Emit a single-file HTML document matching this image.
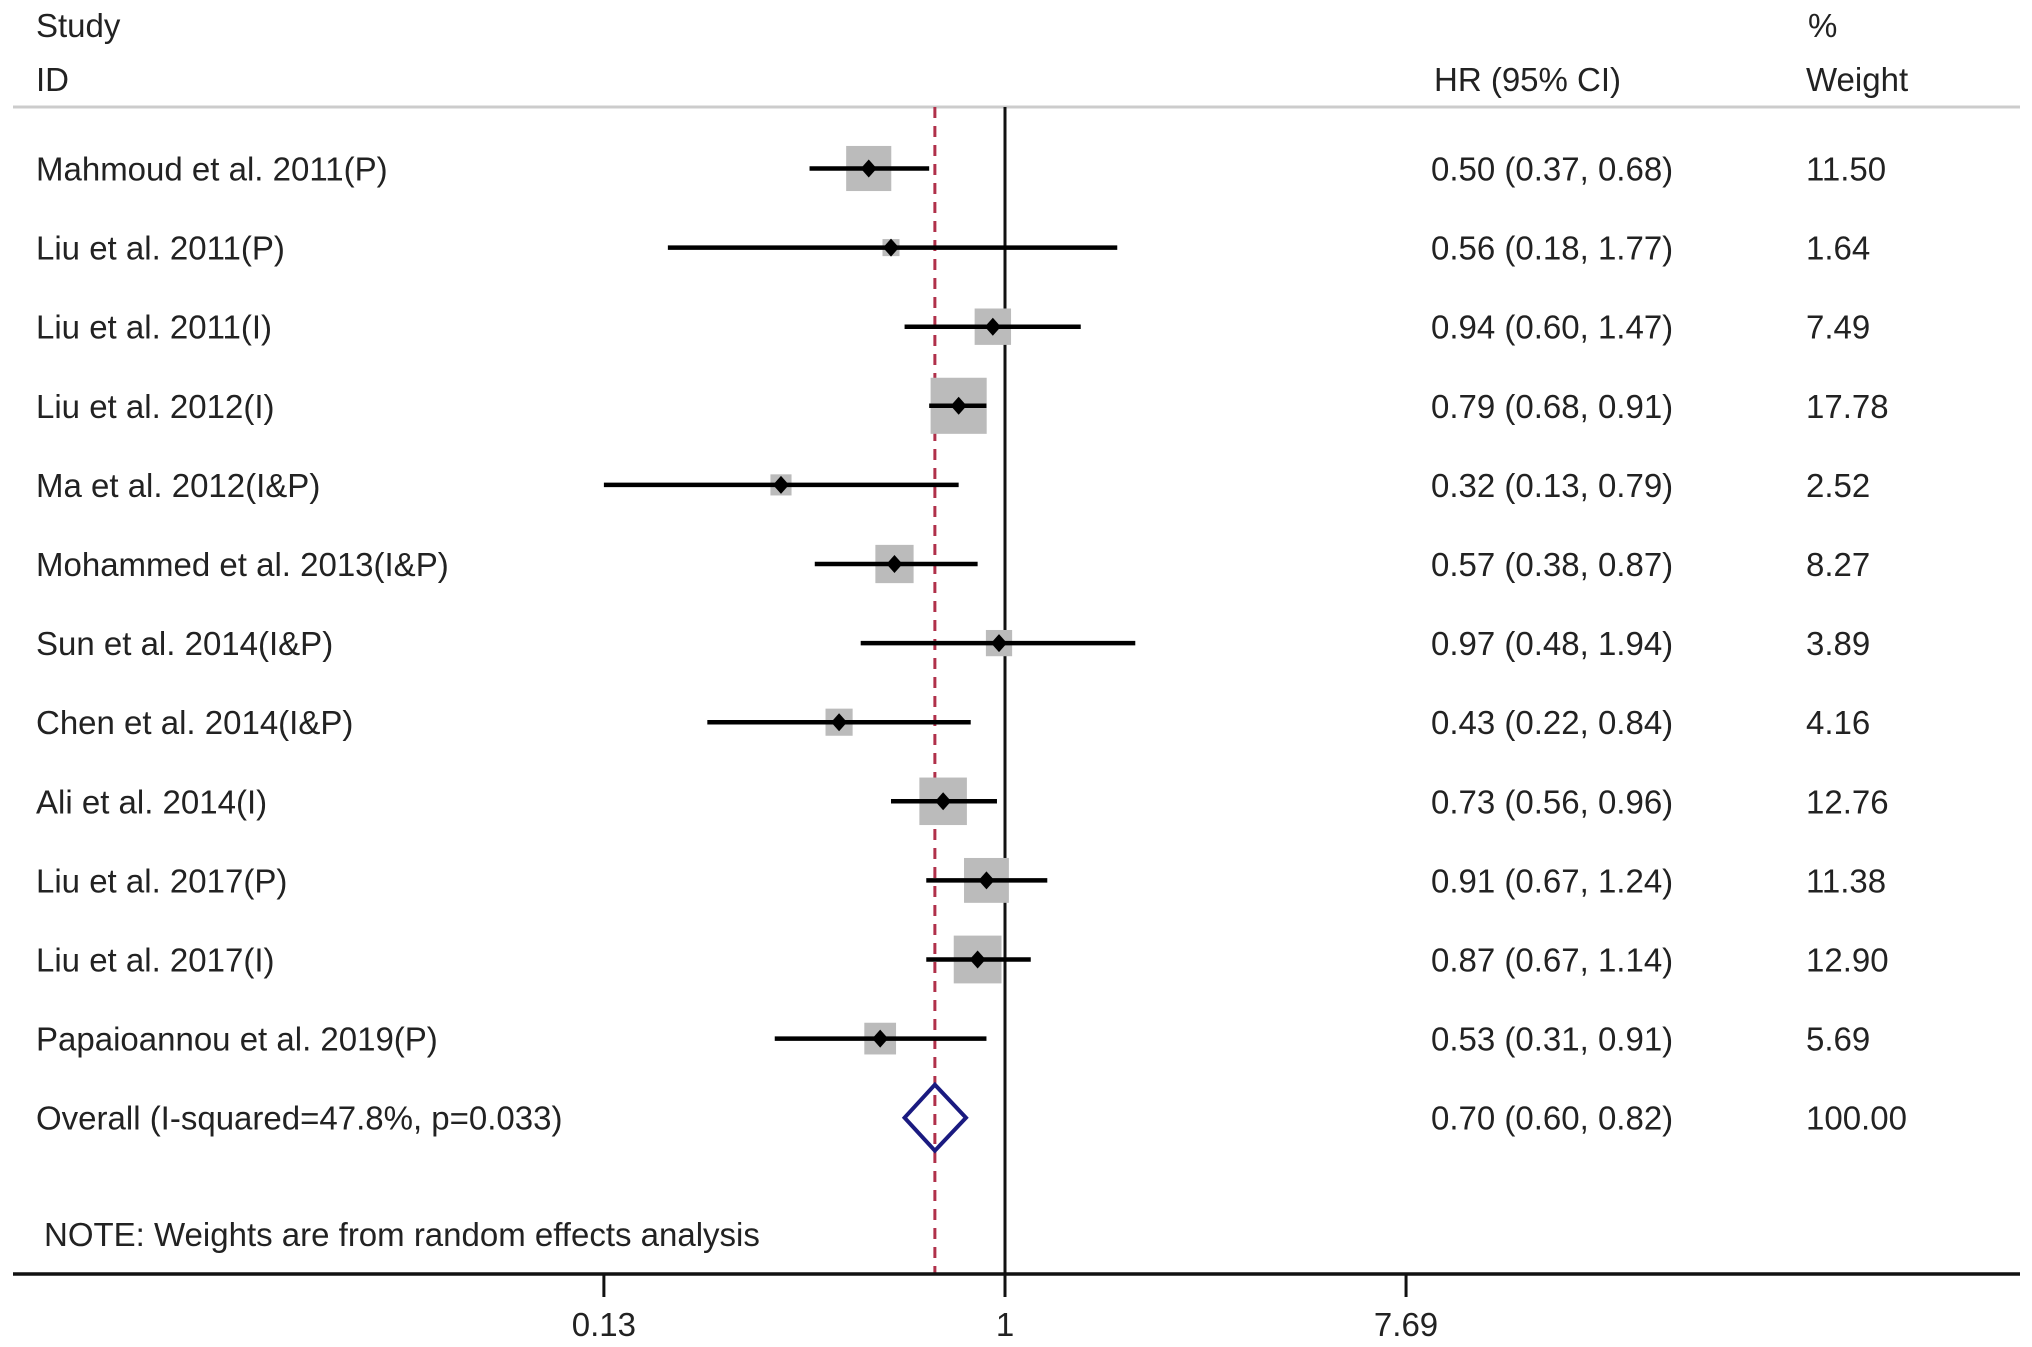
<!DOCTYPE html>
<html><head><meta charset="utf-8"><style>
html,body{margin:0;padding:0;background:#fff;}
svg{display:block;font-family:"Liberation Sans",Arial,sans-serif;}
text{fill:#222;font-size:33px;}
</style></head><body>
<svg id="chart" width="2032" height="1347" viewBox="0 0 2032 1347" xmlns="http://www.w3.org/2000/svg">
<text x="36" y="37">Study</text>
<text x="36" y="91">ID</text>
<text x="1434" y="91">HR (95% CI)</text>
<text x="1808" y="37">%</text>
<text x="1806" y="91">Weight</text>
<line x1="13" y1="107" x2="2020" y2="107" stroke="#ccc" stroke-width="3"/>
<g id="plot"></g>
<text x="44" y="1246">NOTE: Weights are from random effects analysis</text>
</svg>
<script>
const studies = ["Mahmoud et al. 2011(P)","Liu et al. 2011(P)","Liu et al. 2011(I)","Liu et al. 2012(I)","Ma et al. 2012(I&P)","Mohammed et al. 2013(I&P)","Sun et al. 2014(I&P)","Chen et al. 2014(I&P)","Ali et al. 2014(I)","Liu et al. 2017(P)","Liu et al. 2017(I)","Papaioannou et al. 2019(P)"];
const hr = [0.50,0.56,0.94,0.79,0.32,0.57,0.97,0.43,0.73,0.91,0.87,0.53];
const lo = [0.37,0.18,0.60,0.68,0.13,0.38,0.48,0.22,0.56,0.67,0.67,0.31];
const hi = [0.68,1.77,1.47,0.91,0.79,0.87,1.94,0.84,0.96,1.24,1.14,0.91];
const weights = ["11.50","1.64","7.49","17.78","2.52","8.27","3.89","4.16","12.76","11.38","12.90","5.69"];
const overallLabel = "Overall (I-squared=47.8%, p=0.033)";
const overall = [0.70,0.60,0.82];
const overallWeight = "100.00";
const ticks = [0.13,1,7.69];

const NS="http://www.w3.org/2000/svg";
const g=document.getElementById('plot');
const x0=1005, k=196.6;
const X=v=>x0+k*Math.log(v);
const rowY=i=>168.5+79.1*i;
function el(t,a){const e=document.createElementNS(NS,t);for(const n in a)e.setAttribute(n,a[n]);g.appendChild(e);return e;}
const fmt=v=>v.toFixed(2);
const axisY=1274;

let l=el('line',{x1:X(1),y1:107,x2:X(1),y2:axisY,stroke:'#111','stroke-width':3});


l=el('line',{x1:X(overall[0]),y1:107,x2:X(overall[0]),y2:axisY,stroke:'#b0304a','stroke-width':3,'stroke-dasharray':'11,8'});



studies.forEach((s,i)=>{
  const y=rowY(i);
  const side=13.3*Math.sqrt(parseFloat(weights[i]));
  let b=el('rect',{x:X(hr[i])-side/2,y:y-side/2,width:side,height:side,fill:'#bbb'});
  
  
  let c=el('line',{x1:X(lo[i]),y1:y,x2:X(hi[i]),y2:y,stroke:'#000','stroke-width':4.5});
  
  
  const px=X(hr[i]);
  let m=el('polygon',{points:`${px-8},${y} ${px},${y-9} ${px+8},${y} ${px},${y+9}`,fill:'#000'});
  
  
  let t=el('text',{x:36,y:y+12}); t.textContent=s;
  
  
  t=el('text',{x:1431,y:y+12}); t.textContent=`${fmt(hr[i])} (${fmt(lo[i])}, ${fmt(hi[i])})`;
  
  
  t=el('text',{x:1806,y:y+12}); t.textContent=weights[i];
  
  
});

const oy=rowY(studies.length);
let d=el('polygon',{points:`${X(overall[1])},${oy} ${X(overall[0])},${oy-33} ${X(overall[2])},${oy} ${X(overall[0])},${oy+33}`,fill:'none',stroke:'#1a1a80','stroke-width':4});


let t=el('text',{x:36,y:oy+12}); t.textContent=overallLabel;


t=el('text',{x:1431,y:oy+12}); t.textContent=`${fmt(overall[0])} (${fmt(overall[1])}, ${fmt(overall[2])})`;


t=el('text',{x:1806,y:oy+12}); t.textContent=overallWeight;



let ax=el('line',{x1:13,y1:axisY,x2:2020,y2:axisY,stroke:'#111','stroke-width':3.5});


ticks.forEach(v=>{
  let tk=el('line',{x1:X(v),y1:axisY,x2:X(v),y2:axisY+23,stroke:'#111','stroke-width':3});
  
  
  let lb=el('text',{x:X(v),y:1336,'text-anchor':'middle'}); lb.textContent=String(v);
  
  
});
</script>
</body></html>
